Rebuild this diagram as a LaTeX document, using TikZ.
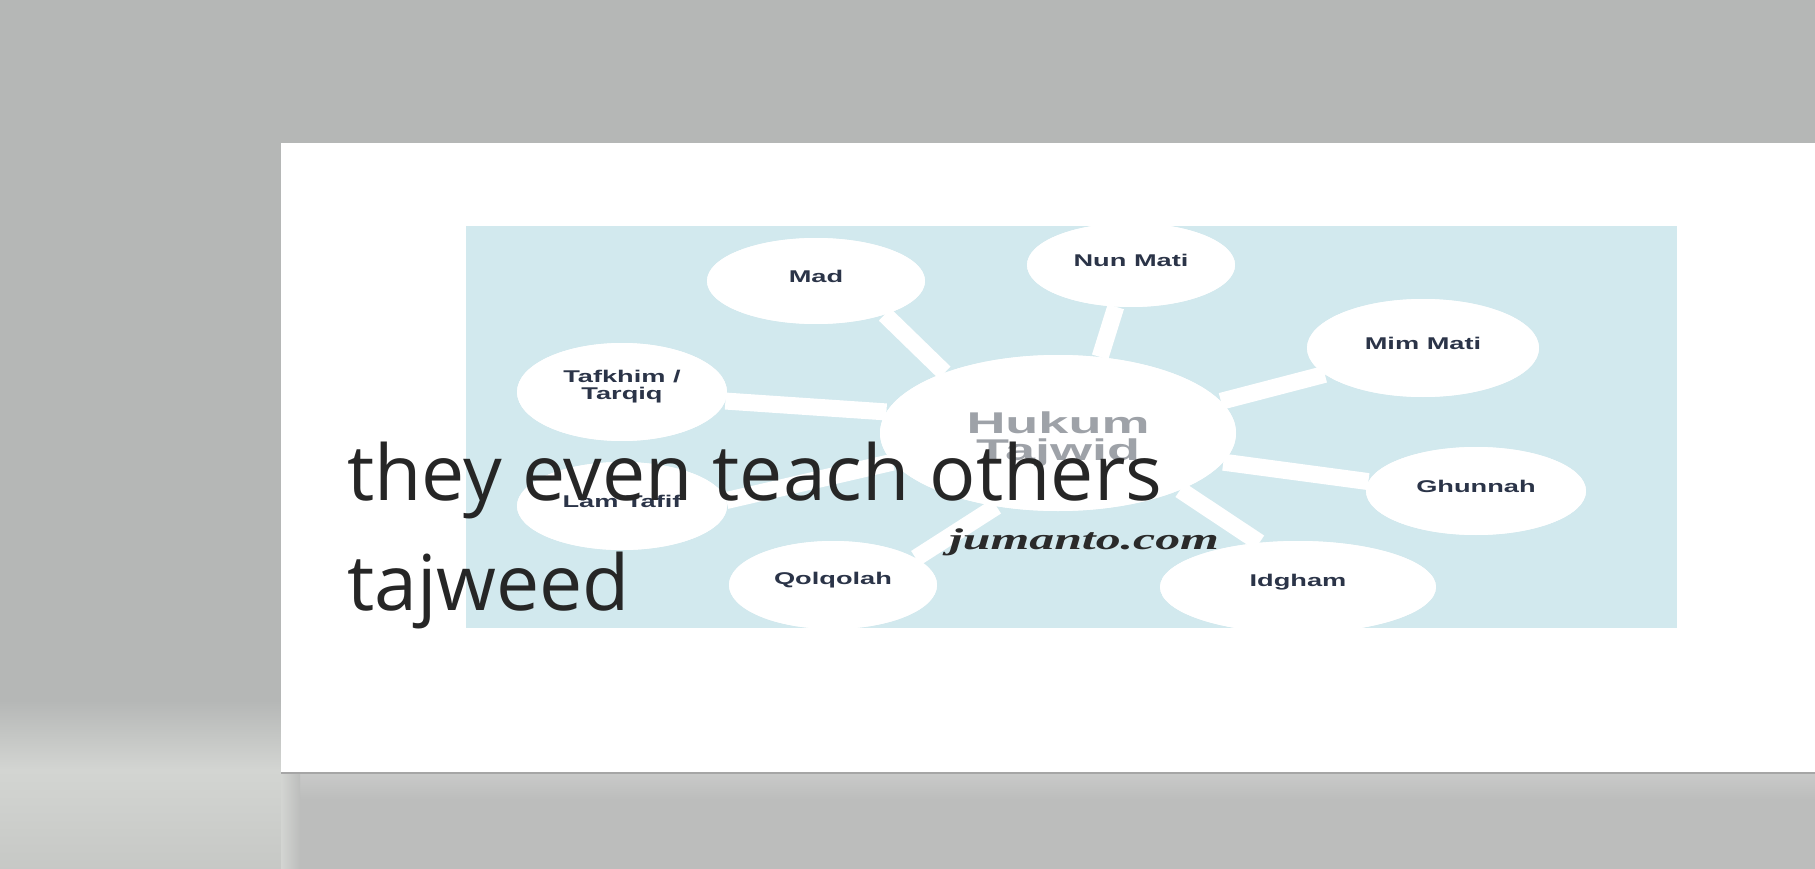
\documentclass[tikz,border=0pt]{standalone}
\usepackage{fontspec}
\setmainfont{Liberation Sans}
\newfontfamily\bigfont{Open Sans}
\newfontfamily\serifbi{Liberation Serif}
\usetikzlibrary{shapes.geometric}
\definecolor{bggray}{HTML}{B5B7B6}
\definecolor{floorgray}{HTML}{BCBDBC}
\definecolor{floorlight}{HTML}{D3D5D2}
\definecolor{panelblue}{HTML}{D2E9EE}
\definecolor{labnavy}{HTML}{2B3448}
\definecolor{hubgray}{HTML}{9EA2A8}
\definecolor{bigtext}{HTML}{262626}
\definecolor{jumtext}{HTML}{2A2A2A}
\tikzset{
  sat/.style={ellipse, fill=white, draw=none, inner sep=0pt},
  lab/.style={text=labnavy, font=\bfseries\fontsize{17}{17}\selectfont, align=center, inner sep=0pt},
  conn/.style={draw=white, line width=17pt},
  bigstyle/.style={text=bigtext, font=\bigfont\fontsize{77}{77}\selectfont, inner sep=0pt, anchor=base west}
}
\begin{document}
\begin{tikzpicture}[x=1pt,y=-1pt]
\useasboundingbox (0,0) rectangle (1815,869);
% background
\fill[bggray] (0,0) rectangle (1815,869);
\shade[top color=bggray, bottom color=floorlight] (0,700) rectangle (281,770);
\shade[top color=floorlight, bottom color=floorlight!94!black] (0,770) rectangle (281,869);
\shade[top color=floorgray!80!white, bottom color=floorgray] (281,772) rectangle (1815,800);
\fill[floorgray] (281,800) rectangle (1815,869);
\shade[left color=floorlight, right color=floorgray] (281,772) rectangle (300,869);
\draw[gray!70, line width=2pt] (281,773) -- (1815,773);
% card
\fill[white] (281,143) rectangle (1815,772);
% panel
\fill[panelblue] (466,226) rectangle (1677,628);
\begin{scope}
\clip (466,226) rectangle (1677,628);
\node[sat, minimum width=356, minimum height=156] (hub) at (1058,433) {};
\node[sat, minimum width=218, minimum height=86] (mad) at (816,281) {};
\node[sat, minimum width=208, minimum height=84] (nun) at (1131,265) {};
\node[sat, minimum width=232, minimum height=98] (mim) at (1423,348) {};
\node[sat, minimum width=210, minimum height=98] (taf) at (622,392) {};
\node[sat, minimum width=220, minimum height=88] (ghu) at (1476,491) {};
\node[sat, minimum width=210, minimum height=88] (lam) at (622,506) {};
\node[sat, minimum width=208, minimum height=88] (qol) at (833,585) {};
\node[sat, minimum width=276, minimum height=92] (idg) at (1298,587) {};
\draw[conn] (mad.-26.6) -- (hub.152);
\draw[conn] (nun.-110) -- (hub.61.4);
\draw[conn] (mim.-165) -- (hub.11.6);
\draw[conn] (taf.-5.8) -- (hub.173.9);
\draw[conn] (ghu.175.6) -- (hub.-10.1);
\draw[conn] (lam.3) -- (hub.-170);
\draw[conn] (qol.18.4) -- (hub.-130);
\draw[conn] (idg.131.5) -- (hub.-25.7);
\node[sat, minimum width=356, minimum height=156] at (hub) {};
\node[sat, minimum width=218, minimum height=86] at (mad) {};
\node[sat, minimum width=208, minimum height=84] at (nun) {};
\node[sat, minimum width=232, minimum height=98] at (mim) {};
\node[sat, minimum width=210, minimum height=98] at (taf) {};
\node[sat, minimum width=220, minimum height=88] at (ghu) {};
\node[sat, minimum width=210, minimum height=88] at (lam) {};
\node[sat, minimum width=208, minimum height=88] at (qol) {};
\node[sat, minimum width=276, minimum height=92] at (idg) {};
\end{scope}
% labels
\node[lab] (madl) at ([yshift=5pt]mad.center) {\scalebox{1.6}[1]{Mad}};
\node[lab] (nunl) at ([yshift=5pt]nun.center) {\scalebox{1.6}[1]{Nun Mati}};
\node[lab] (miml) at ([yshift=5pt]mim.center) {\scalebox{1.6}[1]{Mim Mati}};
\node[lab] (tafl) at ([yshift=5pt]taf.center) {\scalebox{1.6}[1]{Tafkhim /}\\\scalebox{1.6}[1]{Tarqiq}};
\node[lab] (ghul) at ([yshift=5pt]ghu.center) {\scalebox{1.6}[1]{Ghunnah}};
\node[lab] (laml) at ([yshift=5pt]lam.center) {\scalebox{1.6}[1]{Lam Tafif}};
\node[lab] (qoll) at ([yshift=5pt]qol.center) {\scalebox{1.6}[1]{Qolqolah}};
\node[lab] (idgl) at ([yshift=5pt]idg.center) {\scalebox{1.6}[1]{Idgham}};
\node[text=hubgray, font=\bfseries\fontsize{30}{27}\selectfont, align=center, inner sep=0pt] (hubl) at ([yshift=-6pt]hub.center) {\scalebox{1.8}[1]{Hukum}\\\scalebox{1.8}[1]{Tajwid}};
\node[text=jumtext, font=\serifbi\bfseries\itshape\fontsize{30}{30}\selectfont, inner sep=0pt] (jum) at (1084,542) {\scalebox{1.66}[1]{jumanto.com}};
% overlay caption
\node[bigstyle] (t1) at (347,500) {they even teach others};
\node[bigstyle] (t2) at (347,610) {tajweed};
\end{tikzpicture}
\end{document}
